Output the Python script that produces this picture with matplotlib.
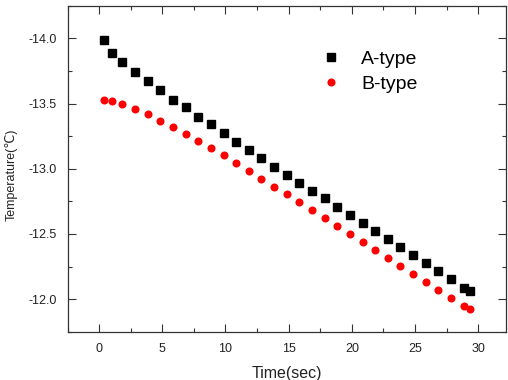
import matplotlib
matplotlib.use("Agg")
import matplotlib.pyplot as plt
from matplotlib.ticker import MultipleLocator

time_sec = [0.4, 1.0, 1.85, 2.85, 3.85, 4.85, 5.85, 6.85, 7.85, 8.85, 9.85,
            10.85, 11.85, 12.85, 13.85, 14.85, 15.85, 16.85, 17.85, 18.85, 19.85,
            20.85, 21.85, 22.85, 23.85, 24.85, 25.85, 26.85, 27.85, 28.85, 29.35]

a_type = [-13.99, -13.89, -13.82, -13.74, -13.67, -13.60, -13.53, -13.47, -13.40,
          -13.34, -13.27, -13.207, -13.143, -13.08, -13.015, -12.954, -12.89,
          -12.831, -12.772, -12.71, -12.647, -12.584, -12.522, -12.461, -12.40,
          -12.339, -12.275, -12.213, -12.152, -12.087, -12.062]

b_type = [-13.529, -13.521, -13.494, -13.458, -13.417, -13.368, -13.320, -13.268,
          -13.212, -13.159, -13.103, -13.041, -12.982, -12.921, -12.86, -12.805,
          -12.746, -12.685, -12.623, -12.562, -12.50, -12.44, -12.379, -12.315,
          -12.254, -12.195, -12.133, -12.072, -12.011, -11.95, -11.922]

series_names = ["A-type", "B-type"]
x_ticks = [0, 5, 10, 15, 20, 25, 30]
y_ticks = [-14.0, -13.5, -13.0, -12.5, -12.0]

plt.rcParams['font.family'] = ['Liberation Sans', 'DejaVu Sans']

fig = plt.figure(figsize=(5.08, 3.80), dpi=100)
ax = fig.add_axes([67.5/508, 1-331.7/380, (506-67.5)/508, (331.7-5.7)/380])

ax.plot(time_sec, a_type, linestyle='none', marker='s', markersize=5.2,
        color='black', label=series_names[0])
ax.plot(time_sec, b_type, linestyle='none', marker='o', markersize=5.8,
        color='#ff0000', markeredgewidth=0, label=series_names[1])

ax.set_xlim(-2.5, 32.2)
ax.set_ylim(-11.75, -14.25)
ax.set_xticks(x_ticks)
ax.set_yticks(y_ticks)
ax.set_yticklabels([f"{v:.1f}" for v in y_ticks])
ax.xaxis.set_minor_locator(MultipleLocator(2.5))
ax.yaxis.set_minor_locator(MultipleLocator(0.25))
ax.tick_params(which='both', direction='in', top=True, right=True,
               labelsize=9, color='#333333', labelcolor='#222222', width=0.8)
ax.tick_params(which='major', length=5.5, pad=8)
ax.tick_params(which='minor', length=3)
for s in ax.spines.values():
    s.set_color('#333333')
    s.set_linewidth(0.9)

ax.set_xlabel("Time(sec)", fontsize=11.5, labelpad=8, color='#222222')
ax.set_ylabel("Temperature(℃)", fontsize=9, color='#222222')
ax.yaxis.set_label_coords(-0.113, 0.48)

ax.legend(loc='upper left', bbox_to_anchor=(0.579, 0.862), frameon=False,
          fontsize=14, handlelength=1.0, handletextpad=1.05, borderpad=0,
          borderaxespad=0, labelspacing=0.36)

fig.savefig("out.png", dpi=100)
